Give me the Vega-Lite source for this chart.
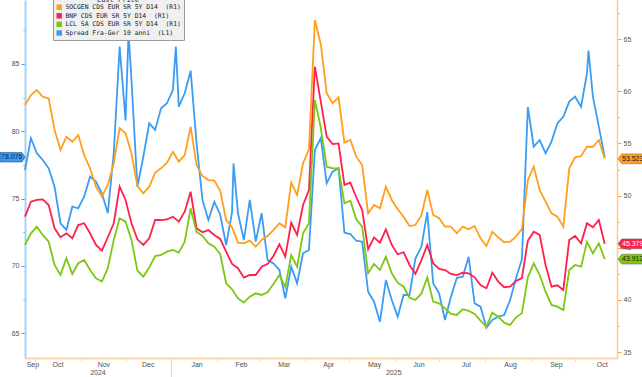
{
"$schema":"https://vega.github.io/schema/vega-lite/v6.json",
"width":592,"height":358,
"autosize":{"type":"none"},
"padding":{"left":25,"right":25,"top":0,"bottom":19},
"background":"#ffffff",
"config":{"view":{"stroke":null},"font":"Liberation Sans","axis":{"labelFont":"Liberation Sans","labelFontSize":7,"labelColor":"#505050","grid":false,"title":null}},
"data":{"values":[
{"d":"2024-09-24","SOCGEN":58.68,"BNP":47.98,"LCL":45.27,"Spread":77.12},
{"d":"2024-09-28","SOCGEN":59.64,"BNP":49.42,"LCL":46.39,"Spread":79.48},
{"d":"2024-10-02","SOCGEN":60.11,"BNP":49.58,"LCL":47.02,"Spread":78.37},
{"d":"2024-10-06","SOCGEN":59.47,"BNP":49.64,"LCL":46.23,"Spread":77.87},
{"d":"2024-10-10","SOCGEN":59.32,"BNP":49.1,"LCL":45.58,"Spread":77.25},
{"d":"2024-10-14","SOCGEN":56.28,"BNP":46.87,"LCL":43.35,"Spread":75.88},
{"d":"2024-10-18","SOCGEN":54.37,"BNP":46.01,"LCL":42.4,"Spread":73.17},
{"d":"2024-10-22","SOCGEN":55.64,"BNP":46.39,"LCL":44.0,"Spread":72.67},
{"d":"2024-10-26","SOCGEN":55.16,"BNP":45.91,"LCL":42.49,"Spread":74.4},
{"d":"2024-10-30","SOCGEN":55.8,"BNP":47.18,"LCL":43.52,"Spread":74.28},
{"d":"2024-11-03","SOCGEN":53.89,"BNP":47.35,"LCL":43.83,"Spread":75.14},
{"d":"2024-11-07","SOCGEN":52.61,"BNP":46.39,"LCL":42.87,"Spread":76.63},
{"d":"2024-11-11","SOCGEN":50.85,"BNP":45.27,"LCL":42.08,"Spread":76.26},
{"d":"2024-11-15","SOCGEN":49.9,"BNP":44.72,"LCL":41.76,"Spread":75.39},
{"d":"2024-11-19","SOCGEN":51.02,"BNP":46.01,"LCL":43.04,"Spread":73.91},
{"d":"2024-11-23","SOCGEN":53.1,"BNP":47.35,"LCL":45.75,"Spread":78.37},
{"d":"2024-11-27","SOCGEN":56.45,"BNP":50.85,"LCL":47.83,"Spread":86.29},
{"d":"2024-12-01","SOCGEN":55.97,"BNP":49.58,"LCL":47.5,"Spread":80.8},
{"d":"2024-12-03","Spread":87.3},
{"d":"2024-12-05","SOCGEN":54.05,"BNP":47.35,"LCL":45.75,"Spread":83.81},
{"d":"2024-12-09","SOCGEN":50.92,"BNP":45.81,"LCL":42.81,"Spread":75.88},
{"d":"2024-12-13","SOCGEN":50.22,"BNP":45.27,"LCL":42.23,"Spread":78.11},
{"d":"2024-12-17","SOCGEN":50.85,"BNP":45.91,"LCL":43.1,"Spread":80.59},
{"d":"2024-12-21","SOCGEN":52.2,"BNP":47.66,"LCL":44.21,"Spread":80.1},
{"d":"2024-12-25","SOCGEN":52.61,"BNP":47.66,"LCL":44.31,"Spread":81.71},
{"d":"2024-12-29","SOCGEN":53.15,"BNP":47.73,"LCL":44.63,"Spread":82.08},
{"d":"2025-01-02","SOCGEN":54.2,"BNP":47.98,"LCL":44.79,"Spread":83.07},
{"d":"2025-01-04","Spread":86.3},
{"d":"2025-01-06","SOCGEN":53.25,"BNP":47.5,"LCL":44.53,"Spread":81.83},
{"d":"2025-01-10","SOCGEN":53.89,"BNP":48.46,"LCL":45.58,"Spread":82.82},
{"d":"2025-01-14","SOCGEN":56.6,"BNP":50.37,"LCL":48.78,"Spread":84.5},
{"d":"2025-01-18","SOCGEN":52.93,"BNP":46.87,"LCL":46.54,"Spread":79.11},
{"d":"2025-01-22","SOCGEN":51.88,"BNP":46.48,"LCL":46.13,"Spread":74.9},
{"d":"2025-01-26","SOCGEN":51.49,"BNP":46.7,"LCL":45.43,"Spread":73.41},
{"d":"2025-01-30","SOCGEN":51.43,"BNP":46.23,"LCL":45.1,"Spread":74.77},
{"d":"2025-02-03","SOCGEN":50.45,"BNP":45.85,"LCL":44.4,"Spread":73.8},
{"d":"2025-02-07","SOCGEN":47.66,"BNP":44.63,"LCL":41.6,"Spread":71.55},
{"d":"2025-02-11","SOCGEN":46.96,"BNP":43.45,"LCL":41.02,"Spread":74.0},
{"d":"2025-02-12","Spread":77.6},
{"d":"2025-02-15","SOCGEN":45.49,"BNP":43.04,"LCL":40.16,"Spread":73.91},
{"d":"2025-02-19","SOCGEN":45.43,"BNP":42.14,"LCL":39.74,"Spread":71.92},
{"d":"2025-02-23","SOCGEN":45.68,"BNP":42.39,"LCL":40.32,"Spread":74.9},
{"d":"2025-02-27","SOCGEN":45.1,"BNP":42.39,"LCL":40.64,"Spread":71.8},
{"d":"2025-03-03","SOCGEN":45.75,"BNP":43.19,"LCL":40.48,"Spread":73.91},
{"d":"2025-03-07","SOCGEN":46.13,"BNP":43.45,"LCL":40.74,"Spread":70.44},
{"d":"2025-03-11","SOCGEN":46.7,"BNP":44.21,"LCL":41.53,"Spread":70.19},
{"d":"2025-03-15","SOCGEN":47.35,"BNP":45.34,"LCL":42.39,"Spread":69.7},
{"d":"2025-03-19","SOCGEN":46.96,"BNP":44.15,"LCL":41.22,"Spread":67.59},
{"d":"2025-03-23","SOCGEN":51.24,"BNP":47.4,"LCL":44.31,"Spread":69.94},
{"d":"2025-03-27","SOCGEN":50.06,"BNP":46.23,"LCL":43.19,"Spread":68.71},
{"d":"2025-03-31","SOCGEN":53.1,"BNP":49.1,"LCL":46.39,"Spread":70.94},
{"d":"2025-04-04","SOCGEN":54.43,"BNP":50.54,"LCL":47.35,"Spread":71.18},
{"d":"2025-04-08","SOCGEN":66.82,"BNP":62.35,"LCL":59.16,"Spread":78.61},
{"d":"2025-04-12","SOCGEN":64.5,"BNP":59.0,"LCL":56.5,"Spread":79.5},
{"d":"2025-04-16","SOCGEN":59.8,"BNP":55.64,"LCL":52.77,"Spread":76.14},
{"d":"2025-04-20","SOCGEN":58.84,"BNP":54.94,"LCL":52.61,"Spread":77.0},
{"d":"2025-04-24","SOCGEN":59.42,"BNP":55.0,"LCL":52.61,"Spread":77.25},
{"d":"2025-04-28","SOCGEN":55.07,"BNP":51.02,"LCL":49.26,"Spread":72.47},
{"d":"2025-05-02","SOCGEN":55.33,"BNP":51.24,"LCL":49.51,"Spread":72.37},
{"d":"2025-05-06","SOCGEN":53.73,"BNP":49.84,"LCL":47.73,"Spread":71.87},
{"d":"2025-05-10","SOCGEN":52.93,"BNP":48.62,"LCL":47.02,"Spread":71.8},
{"d":"2025-05-14","SOCGEN":48.3,"BNP":44.86,"LCL":42.56,"Spread":68.08},
{"d":"2025-05-18","SOCGEN":49.1,"BNP":46.0,"LCL":43.45,"Spread":67.34},
{"d":"2025-05-22","SOCGEN":48.78,"BNP":45.49,"LCL":42.87,"Spread":65.85},
{"d":"2025-05-26","SOCGEN":50.85,"BNP":46.77,"LCL":44.15,"Spread":68.95},
{"d":"2025-05-30","SOCGEN":49.58,"BNP":45.27,"LCL":42.56,"Spread":67.47},
{"d":"2025-06-03","SOCGEN":48.69,"BNP":44.38,"LCL":41.66,"Spread":66.23},
{"d":"2025-06-07","SOCGEN":47.98,"BNP":44.57,"LCL":41.27,"Spread":67.84},
{"d":"2025-06-11","SOCGEN":47.09,"BNP":43.35,"LCL":40.22,"Spread":67.84},
{"d":"2025-06-15","SOCGEN":47.18,"BNP":42.49,"LCL":40.0,"Spread":70.56},
{"d":"2025-06-19","SOCGEN":48.1,"BNP":43.8,"LCL":40.6,"Spread":71.4},
{"d":"2025-06-23","SOCGEN":50.54,"BNP":45.27,"LCL":42.17,"Spread":74.0},
{"d":"2025-06-27","SOCGEN":48.14,"BNP":43.51,"LCL":39.84,"Spread":68.71},
{"d":"2025-07-01","SOCGEN":47.83,"BNP":42.97,"LCL":39.68,"Spread":67.96},
{"d":"2025-07-05","SOCGEN":47.02,"BNP":42.87,"LCL":39.2,"Spread":65.98},
{"d":"2025-07-09","SOCGEN":47.02,"BNP":42.49,"LCL":38.66,"Spread":67.71},
{"d":"2025-07-13","SOCGEN":46.39,"BNP":42.39,"LCL":38.56,"Spread":69.12},
{"d":"2025-07-17","SOCGEN":47.02,"BNP":42.62,"LCL":39.11,"Spread":69.2},
{"d":"2025-07-21","SOCGEN":46.77,"BNP":42.55,"LCL":38.95,"Spread":70.68},
{"d":"2025-07-25","SOCGEN":47.09,"BNP":42.17,"LCL":38.66,"Spread":67.22},
{"d":"2025-07-29","SOCGEN":45.91,"BNP":41.44,"LCL":38.02,"Spread":66.97},
{"d":"2025-08-02","SOCGEN":45.17,"BNP":41.12,"LCL":37.44,"Spread":65.41},
{"d":"2025-08-06","SOCGEN":46.54,"BNP":42.62,"LCL":38.78,"Spread":65.98},
{"d":"2025-08-10","SOCGEN":46.0,"BNP":41.76,"LCL":38.4,"Spread":66.23},
{"d":"2025-08-14","SOCGEN":45.53,"BNP":41.22,"LCL":37.83,"Spread":66.35},
{"d":"2025-08-18","SOCGEN":45.59,"BNP":41.28,"LCL":37.6,"Spread":67.47},
{"d":"2025-08-22","SOCGEN":46.07,"BNP":41.82,"LCL":38.34,"Spread":69.08},
{"d":"2025-08-26","SOCGEN":46.8,"BNP":42.1,"LCL":38.72,"Spread":70.5},
{"d":"2025-08-30","SOCGEN":51.49,"BNP":45.68,"LCL":42.17,"Spread":81.8},
{"d":"2025-09-03","SOCGEN":52.77,"BNP":46.54,"LCL":43.51,"Spread":78.86},
{"d":"2025-09-07","SOCGEN":50.54,"BNP":46.23,"LCL":42.39,"Spread":79.35},
{"d":"2025-09-11","SOCGEN":49.42,"BNP":43.35,"LCL":40.8,"Spread":78.37},
{"d":"2025-09-15","SOCGEN":48.3,"BNP":41.27,"LCL":39.52,"Spread":79.23},
{"d":"2025-09-19","SOCGEN":47.98,"BNP":41.41,"LCL":39.36,"Spread":80.59},
{"d":"2025-09-23","SOCGEN":47.02,"BNP":40.96,"LCL":39.04,"Spread":81.08},
{"d":"2025-09-27","SOCGEN":52.61,"BNP":45.75,"LCL":42.87,"Spread":82.2},
{"d":"2025-10-01","SOCGEN":53.67,"BNP":46.13,"LCL":43.35,"Spread":82.57},
{"d":"2025-10-05","SOCGEN":53.79,"BNP":45.43,"LCL":43.19,"Spread":81.83},
{"d":"2025-10-09","SOCGEN":54.68,"BNP":47.35,"LCL":45.58,"Spread":84.3},
{"d":"2025-10-10","Spread":86.0},
{"d":"2025-10-13","SOCGEN":54.68,"BNP":46.96,"LCL":44.47,"Spread":82.57},
{"d":"2025-10-17","SOCGEN":55.33,"BNP":47.66,"LCL":45.43,"Spread":80.34},
{"d":"2025-10-21","SOCGEN":53.5231,"BNP":45.3796,"LCL":43.9125,"Spread":78.076}
]},
"transform":[{"fold":["SOCGEN","BNP","LCL","Spread"],"as":["s","v"]},{"filter":"isValid(datum.v)"}],
"layer":[
{"transform":[{"filter":"datum.s == 'Spread'"}],
 "mark":{"type":"line","strokeWidth":1.8},
 "encoding":{
  "x":{"field":"d","type":"temporal","scale":{"type":"utc","domain":[{"year":2024,"month":9,"date":24,"utc":true},{"year":2025,"month":10,"date":29,"hours":7,"utc":true}]},
   "axis":{"orient":"bottom","format":"%b","ticks":false,"labelPadding":2,"domain":true,"domainColor":"#fad7a8","domainWidth":2,"labelFlush":false,"labelOverlap":false,
    "values":[{"year":2024,"month":9,"date":29,"utc":true},{"year":2024,"month":10,"date":16,"utc":true},{"year":2024,"month":11,"date":16,"utc":true},{"year":2024,"month":12,"date":16,"utc":true},{"year":2025,"month":1,"date":18,"utc":true},{"year":2025,"month":2,"date":17,"utc":true},{"year":2025,"month":3,"date":18,"utc":true},{"year":2025,"month":4,"date":17,"utc":true},{"year":2025,"month":5,"date":18,"utc":true},{"year":2025,"month":6,"date":17,"utc":true},{"year":2025,"month":7,"date":19,"utc":true},{"year":2025,"month":8,"date":18,"utc":true},{"year":2025,"month":9,"date":18,"utc":true},{"year":2025,"month":10,"date":19,"utc":true}]}},
  "y":{"field":"v","type":"quantitative","scale":{"domain":[63.16,89.75],"nice":false,"zero":false},
   "axis":{"orient":"left","values":[65,67.5,70,72.5,75,77.5,80,82.5,85,87.5],"labelExpr":"datum.value % 5 == 0 ? datum.label : ''","format":"d","domainColor":"#a6d2f7","domainWidth":2,"tickColor":"#3b9cf3","tickSize":{"condition":{"test":"datum.value % 5 != 0","value":2},"value":4},"labelPadding":2}},
  "color":{"field":"s","type":"nominal","scale":{"domain":["SOCGEN","BNP","LCL","Spread"],"range":["#ff9f1c","#ff1f4c","#7cc712","#3b9cf3"]},
   "legend":{"title":"Last Price","orient":"none","legendX":28,"legendY":-7,"direction":"vertical","fillColor":"#f0f0f0","strokeColor":"#9b9b9b","padding":3,"titleFont":"DejaVu Sans Mono","titleFontSize":7,"titleFontWeight":"normal","titleColor":"#333333","titleAnchor":"middle","titlePadding":1,"labelFontSize":6.4,"labelColor":"#222222","labelFont":"DejaVu Sans Mono","symbolType":"square","symbolSize":30,"symbolStrokeWidth":0,"rowPadding":1.6,"labelOffset":3,
    "labelExpr":"datum.label == 'SOCGEN' ? 'SOCGEN CDS EUR SR 5Y D14\u00a0\u00a0(R1)' : datum.label == 'BNP' ? 'BNP CDS EUR SR 5Y D14\u00a0\u00a0(R1)' : datum.label == 'LCL' ? 'LCL SA CDS EUR SR 5Y D14\u00a0\u00a0(R1)' : 'Spread Fra-Ger 10 anni\u00a0\u00a0(L1)'",
    "encode":{"symbols":{"update":{"fill":{"scale":"color","field":"value"},"opacity":{"value":1}}}}}}
 }},
{"transform":[{"filter":"datum.s != 'Spread'"}],
 "mark":{"type":"line","strokeWidth":1.8},
 "encoding":{
  "x":{"field":"d","type":"temporal","scale":{"type":"utc","domain":[{"year":2024,"month":9,"date":24,"utc":true},{"year":2025,"month":10,"date":29,"hours":7,"utc":true}]},
   "axis":{"orient":"bottom","labels":false,"domain":false,"ticks":true,"tickColor":"#f5d5ad","tickSize":{"condition":{"test":"utcmonth(datum.value) == 0","value":19},"value":3},
    "values":[{"year":2024,"month":10,"date":1,"utc":true},{"year":2024,"month":11,"date":1,"utc":true},{"year":2024,"month":12,"date":1,"utc":true},{"year":2025,"month":1,"date":1,"utc":true},{"year":2025,"month":2,"date":1,"utc":true},{"year":2025,"month":3,"date":1,"utc":true},{"year":2025,"month":4,"date":1,"utc":true},{"year":2025,"month":5,"date":1,"utc":true},{"year":2025,"month":6,"date":1,"utc":true},{"year":2025,"month":7,"date":1,"utc":true},{"year":2025,"month":8,"date":1,"utc":true},{"year":2025,"month":9,"date":1,"utc":true},{"year":2025,"month":10,"date":1,"utc":true}]}},
  "y":{"field":"v","type":"quantitative","scale":{"domain":[34.44,68.74],"nice":false,"zero":false},
   "axis":{"orient":"right","values":[35,37.5,40,42.5,45,47.5,50,52.5,55,57.5,60,62.5,65,67.5],"labelExpr":"datum.value % 5 == 0 ? datum.label : ''","format":"d","domainColor":"#ffc98a","domainWidth":1.5,"tickColor":"#ff9f1c","tickSize":{"condition":{"test":"datum.value % 5 != 0","value":2},"value":4},"labelPadding":2}},
  "color":{"field":"s","type":"nominal","scale":{"domain":["SOCGEN","BNP","LCL","Spread"],"range":["#ff9f1c","#ff1f4c","#7cc712","#3b9cf3"]}}
 }},
{"transform":[{"filter":"datum.s != 'Spread'"},{"joinaggregate":[{"op":"max","field":"d","as":"md"}],"groupby":["s"]},{"filter":"time(datum.d) == time(datum.md)"}],
 "mark":{"type":"point","filled":true,"opacity":1,"shape":"M -1 0 L -0.72 -0.38 L 1 -0.38 L 1 0.38 L -0.72 0.38 Z","size":676,"xOffset":14,"stroke":"#666666","strokeWidth":0.5},
 "encoding":{
  "x":{"datum":{"year":2025,"month":10,"date":29,"hours":7,"utc":true},"type":"temporal",
   "axis":{"orient":"bottom","format":"%Y","ticks":false,"domain":false,"labelPadding":10,"labelFlush":false,"values":[{"year":2024,"month":11,"date":12,"utc":true},{"year":2025,"month":5,"date":31,"utc":true}]}},
  "y":{"field":"v","type":"quantitative","scale":{"domain":[34.44,68.74],"nice":false,"zero":false},"axis":null},
  "fill":{"condition":[{"test":"datum.s == 'SOCGEN'","value":"#ff9f1c"},{"test":"datum.s == 'BNP'","value":"#ff1f4c"}],"value":"#7cc712"}
 }},
{"transform":[{"filter":"datum.s != 'Spread'"},{"joinaggregate":[{"op":"max","field":"d","as":"md"}],"groupby":["s"]},{"filter":"time(datum.d) == time(datum.md)"}],
 "mark":{"type":"text","align":"left","baseline":"middle","xOffset":5,"fontSize":7,"font":"Liberation Sans"},
 "encoding":{
  "x":{"datum":{"year":2025,"month":10,"date":29,"hours":7,"utc":true},"type":"temporal","axis":null},
  "y":{"field":"v","type":"quantitative","scale":{"domain":[34.44,68.74],"nice":false,"zero":false},"axis":null},
  "text":{"field":"v","type":"nominal"},
  "color":{"condition":{"test":"datum.s == 'BNP'","value":"#ffffff"},"value":"#1a1a1a"}
 }},
{"transform":[{"filter":"datum.s == 'Spread'"},{"joinaggregate":[{"op":"max","field":"d","as":"md"}]},{"filter":"time(datum.d) == time(datum.md)"}],
 "mark":{"type":"point","filled":true,"opacity":1,"shape":"M 1 0 L 0.76 -0.38 L -1 -0.38 L -1 0.38 L 0.76 0.38 Z","size":625,"xOffset":-12.5,"fill":"#3b9cf3","stroke":"#1d4f80","strokeWidth":0.6},
 "encoding":{
  "x":{"datum":{"year":2024,"month":9,"date":24,"utc":true},"type":"temporal","axis":null},
  "y":{"field":"v","type":"quantitative","scale":{"domain":[63.16,89.75],"nice":false,"zero":false},"axis":null}
 }},
{"transform":[{"filter":"datum.s == 'Spread'"},{"joinaggregate":[{"op":"max","field":"d","as":"md"}]},{"filter":"time(datum.d) == time(datum.md)"}],
 "mark":{"type":"text","align":"left","baseline":"middle","xOffset":-24,"fontSize":7,"font":"Liberation Sans","color":"#0a1f3d"},
 "encoding":{
  "x":{"datum":{"year":2024,"month":9,"date":24,"utc":true},"type":"temporal","axis":null},
  "y":{"field":"v","type":"quantitative","scale":{"domain":[63.16,89.75],"nice":false,"zero":false},"axis":null},
  "text":{"field":"v","type":"nominal"}
 }}
],
"resolve":{"scale":{"y":"independent","x":"shared","color":"shared"},"axis":{"x":"independent","y":"independent"}}
}
